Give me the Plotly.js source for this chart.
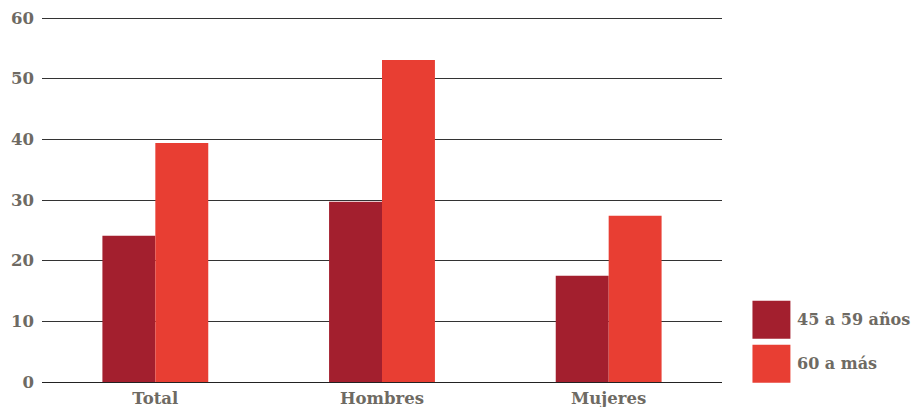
<!DOCTYPE html>
<html><head><meta charset="utf-8">
<script src="https://cdn.plot.ly/plotly-3.0.1.min.js"></script>
<style>body{margin:0;background:#fff}#c{width:912px;height:407px}</style>
</head><body><div id="c"></div>
<script>
const categories = ["Total", "Hombres", "Mujeres"];
const seriesNames = ["45 a 59 años", "60 a más"];
const values4559 = [24.1, 29.7, 17.5];
const values60 = [39.4, 53.1, 27.4];
const yTicks = [0, 10, 20, 30, 40, 50, 60];
const colors = ["#a31f2e", "#e83e33"];

const textColor = "#6e6a63";
const fontFam = "DejaVu Serif, serif";

const traces = [
  {type: "bar", x: categories, y: values4559, name: seriesNames[0], marker: {color: colors[0]}},
  {type: "bar", x: categories, y: values60, name: seriesNames[1], marker: {color: colors[1]}}
];

// plot area: 0 at y=382.3px, 60 at y=18.3px, range top 60.5 -> 15.3px
const plotH = 367.0;
const pxToPaperY = px => (382.3 - px) / plotH;
const shapes = [], annotations = [];
const legTopPx = [301, 345];
seriesNames.forEach((n, i) => {
  const top = legTopPx[i];
  shapes.push({type: "rect", xref: "paper", yref: "paper", x0: 1.0448, x1: 1.1006,
    y0: pxToPaperY(top + 38), y1: pxToPaperY(top), fillcolor: colors[i], line: {width: 0}});
  annotations.push({xref: "paper", yref: "paper", x: 1.1075, y: pxToPaperY(top + 19), text: n,
    showarrow: false, xanchor: "left", yanchor: "middle",
    font: {family: fontFam, size: 16, color: textColor, weight: "bold"}});
});

const layout = {
  width: 912, height: 407,
  margin: {l: 41.5, r: 189.5, t: 15.3, b: 24.7},
  paper_bgcolor: "#fff", plot_bgcolor: "#fff",
  showlegend: false,
  barmode: "group", bargap: 0.533, bargroupgap: 0,
  xaxis: {type: "category", range: [-0.5, 2.5], showgrid: false, showline: false, ticks: "",
    tickfont: {family: fontFam, size: 16.5, color: textColor, weight: "bold"}, ticklabelstandoff: 4},
  yaxis: {range: [0, 60.5], tickvals: yTicks, showgrid: true, gridcolor: "#333", gridwidth: 1,
    zeroline: true, zerolinecolor: "#222", zerolinewidth: 1, showline: false, ticks: "",
    tickfont: {family: fontFam, size: 16.5, color: textColor, weight: "bold"}, ticklabelstandoff: 7},
  shapes: shapes, annotations: annotations
};
Plotly.newPlot("c", traces, layout, {displayModeBar: false, staticPlot: true});
</script></body></html>
